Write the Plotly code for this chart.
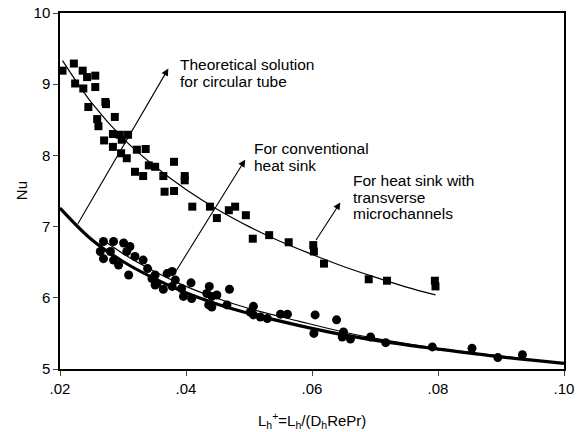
import plotly.graph_objects as go

# Heat sink with transverse microchannels (squares)
sq_x = [0.0204, 0.0222, 0.0224, 0.0236, 0.0237, 0.0243, 0.0256, 0.0256, 0.0245, 0.0272,
        0.0273, 0.0259, 0.0261, 0.0287, 0.0270, 0.0284, 0.0295, 0.0308, 0.0298, 0.0284,
        0.0297, 0.0306, 0.0322, 0.0336, 0.0319, 0.0332, 0.0341, 0.0351, 0.0364, 0.0381,
        0.0398, 0.0398, 0.0366, 0.0381, 0.0410, 0.0438, 0.0449, 0.0468, 0.0478, 0.0495,
        0.0506, 0.0532, 0.0563, 0.0602, 0.0603, 0.0619, 0.0690, 0.0719, 0.0795, 0.0796]
sq_y = [9.19, 9.29, 9.01, 9.19, 8.94, 9.10, 9.12, 8.96, 8.68, 8.75,
        8.72, 8.51, 8.41, 8.54, 8.21, 8.30, 8.29, 8.29, 8.22, 8.12,
        8.03, 7.96, 8.08, 8.09, 7.77, 7.71, 7.86, 7.84, 7.71, 7.91,
        7.71, 7.65, 7.49, 7.50, 7.28, 7.28, 7.12, 7.23, 7.28, 7.16,
        6.83, 6.88, 6.78, 6.74, 6.65, 6.48, 6.26, 6.24, 6.24, 6.16]

# Conventional heat sink (circles)
ci_x = [0.0264, 0.0269, 0.0269, 0.0280, 0.0285, 0.0285, 0.0293, 0.0301, 0.0306, 0.0311,
        0.0309, 0.0319, 0.0332, 0.0339, 0.0346, 0.0351, 0.0351, 0.0354, 0.0364, 0.0370,
        0.0378, 0.0383, 0.0378, 0.0393, 0.0396, 0.0409, 0.0408, 0.0437, 0.0433, 0.0441,
        0.0449, 0.0436, 0.0441, 0.0465, 0.0469, 0.0507, 0.0502, 0.0507, 0.0518, 0.0529,
        0.0550, 0.0561, 0.0605, 0.0603, 0.0639, 0.0650, 0.0648, 0.0661, 0.0693, 0.0717,
        0.0791, 0.0854, 0.0895, 0.0934]
ci_y = [6.65, 6.79, 6.55, 6.65, 6.79, 6.53, 6.46, 6.77, 6.65, 6.72,
        6.32, 6.58, 6.53, 6.41, 6.27, 6.32, 6.18, 6.20, 6.12, 6.34,
        6.37, 6.25, 6.16, 6.13, 6.02, 5.99, 6.21, 6.16, 6.06, 6.02,
        6.04, 5.90, 5.87, 5.90, 6.12, 5.88, 5.80, 5.76, 5.73, 5.71,
        5.77, 5.77, 5.76, 5.50, 5.69, 5.52, 5.45, 5.42, 5.45, 5.37,
        5.31, 5.29, 5.16, 5.20]

# Fitted curve through the squares
fit_sq_x = [0.0204, 0.025, 0.030, 0.035, 0.040, 0.045, 0.050, 0.055, 0.060, 0.065, 0.070, 0.075, 0.0796]
fit_sq_y = [9.33, 8.74, 8.24, 7.85, 7.52, 7.24, 7.00, 6.79, 6.61, 6.44, 6.29, 6.15, 6.04]

# Fitted curve through the circles
fit_ci_x = [0.027, 0.030, 0.035, 0.040, 0.045, 0.050, 0.058, 0.065, 0.0714, 0.080, 0.093]
fit_ci_y = [6.80, 6.62, 6.37, 6.16, 5.99, 5.85, 5.67, 5.52, 5.41, 5.29, 5.15]

# Theoretical solution for circular tube
th_x = [0.020, 0.025, 0.030, 0.035, 0.040, 0.045, 0.050, 0.058, 0.065, 0.0725, 0.080, 0.090, 0.100]
th_y = [7.26, 6.82, 6.51, 6.27, 6.07, 5.91, 5.78, 5.61, 5.48, 5.37, 5.28, 5.17, 5.08]

x_ticks = [0.02, 0.04, 0.06, 0.08, 0.10]
x_ticktext = [".02", ".04", ".06", ".08", ".10"]
y_ticks = [5, 6, 7, 8, 9, 10]

FONT = "Liberation Sans, Arial, Helvetica, sans-serif"
BLACK = "black"

fig = go.Figure()
fig.add_trace(go.Scatter(x=th_x, y=th_y, mode="lines", line=dict(color=BLACK, width=3.2, shape="spline")))
fig.add_trace(go.Scatter(x=fit_ci_x, y=fit_ci_y, mode="lines", line=dict(color=BLACK, width=1.2, shape="spline")))
fig.add_trace(go.Scatter(x=fit_sq_x, y=fit_sq_y, mode="lines", line=dict(color=BLACK, width=1.2, shape="spline")))
fig.add_trace(go.Scatter(x=ci_x, y=ci_y, mode="markers", marker=dict(symbol="circle", size=9, color=BLACK)))
fig.add_trace(go.Scatter(x=sq_x, y=sq_y, mode="markers", marker=dict(symbol="square", size=8, color=BLACK)))

# Arrows: (tail x, tail y, head x, head y)
arrows = [
    (0.0227, 7.02, 0.0372, 9.22),
    (0.0383, 6.36, 0.0494, 7.94),
    (0.0605, 6.79, 0.0645, 7.34),
]
for tx, ty, hx, hy in arrows:
    fig.add_annotation(x=hx, y=hy, ax=tx, ay=ty, xref="x", yref="y", axref="x", ayref="y",
                       text="", showarrow=True, arrowhead=2, arrowsize=1.3, arrowwidth=1.1,
                       arrowcolor=BLACK, standoff=0, startstandoff=0)

labels = [
    (0.0388, 9.27, "Theoretical solution"),
    (0.0388, 9.04, "for circular tube"),
    (0.0505, 8.09, "For conventional"),
    (0.0505, 7.86, "heat sink"),
    (0.0662, 7.65, "For heat sink with"),
    (0.0662, 7.41, "transverse"),
    (0.0662, 7.18, "microchannels"),
]
for lx, ly, txt in labels:
    fig.add_annotation(x=lx, y=ly, xref="x", yref="y", text=txt, showarrow=False,
                       xanchor="left", yanchor="middle", font=dict(family=FONT, size=15.5, color=BLACK))

# Axis titles
fig.add_annotation(x=0.5, y=-0.146, xref="paper", yref="paper", showarrow=False,
                   xanchor="center", yanchor="middle",
                   text="L<sub>h</sub><sup>+</sup>=L<sub>h</sub>/(D<sub>h</sub>RePr)",
                   font=dict(family=FONT, size=15, color=BLACK))
fig.add_annotation(x=-0.077, y=0.5, xref="paper", yref="paper", showarrow=False,
                   xanchor="center", yanchor="middle", textangle=-90, text="Nu",
                   font=dict(family=FONT, size=15, color=BLACK))

fig.update_xaxes(range=[0.02, 0.10], tickvals=x_ticks, ticktext=x_ticktext, ticks="outside",
                 ticklen=5, tickwidth=1.3, showline=True, linecolor=BLACK, linewidth=1.5,
                 mirror=True, showgrid=False, zeroline=False, automargin=False,
                 tickfont=dict(family=FONT, size=15, color=BLACK))
fig.update_yaxes(range=[5, 10], tickvals=y_ticks, ticks="outside", ticklen=5, tickwidth=1.3,
                 showline=True, linecolor=BLACK, linewidth=1.5, mirror=True, showgrid=False,
                 zeroline=False, automargin=False, tickfont=dict(family=FONT, size=15, color=BLACK))

fig.update_layout(width=580, height=432, margin=dict(l=60, r=16, t=13, b=63, autoexpand=False),
                  paper_bgcolor="white", plot_bgcolor="white", showlegend=False,
                  font=dict(family=FONT, color=BLACK))

fig.write_html("out.html")
